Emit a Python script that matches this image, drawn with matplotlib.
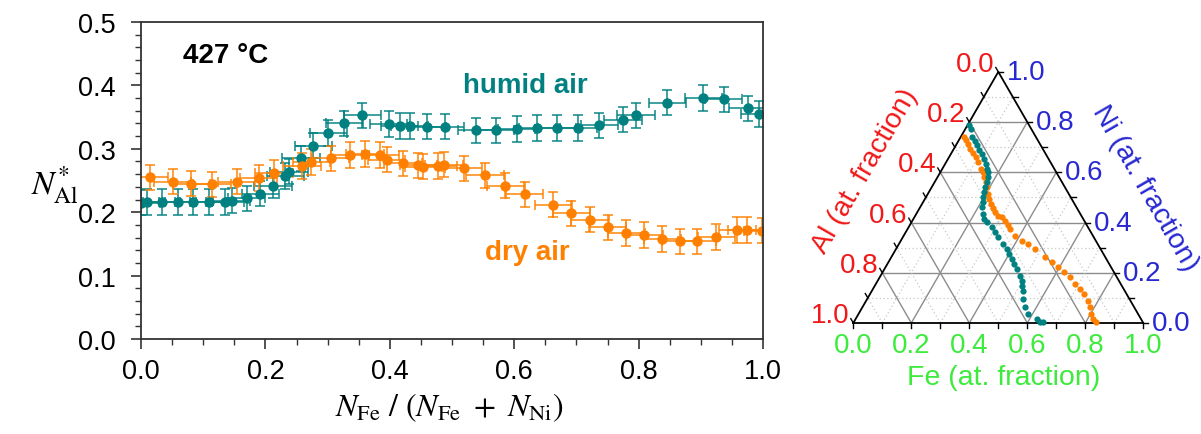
import numpy as np
import matplotlib
matplotlib.use("Agg")
import matplotlib.pyplot as plt

plt.rcParams['font.family'] = ['Liberation Sans', 'DejaVu Sans']
plt.rcParams['mathtext.fontset'] = 'stix'

# ---- N*_Al versus Fe/(Fe+Ni) at 427 °C ----
humid_x = [0.000, 0.009, 0.033, 0.059, 0.084, 0.109, 0.135, 0.146, 0.170, 0.192,
           0.212, 0.232, 0.238, 0.257, 0.277, 0.301, 0.327, 0.356, 0.398, 0.416,
           0.432, 0.460, 0.489, 0.539, 0.570, 0.604, 0.637, 0.669, 0.703, 0.737,
           0.775, 0.796, 0.846, 0.904, 0.937, 0.976, 0.994]
humid_y = [0.215, 0.216, 0.216, 0.216, 0.216, 0.216, 0.216, 0.218, 0.222, 0.229,
           0.242, 0.257, 0.264, 0.285, 0.305, 0.325, 0.340, 0.353, 0.339, 0.336,
           0.336, 0.335, 0.335, 0.329, 0.329, 0.331, 0.333, 0.333, 0.333, 0.337,
           0.346, 0.353, 0.373, 0.380, 0.378, 0.364, 0.355]

dry_x = [0.014, 0.051, 0.081, 0.114, 0.154, 0.189, 0.214, 0.259, 0.274, 0.305,
         0.336, 0.360, 0.385, 0.395, 0.421, 0.446, 0.454, 0.478, 0.487, 0.519,
         0.553, 0.586, 0.617, 0.663, 0.692, 0.722, 0.750, 0.780, 0.809, 0.838,
         0.867, 0.894, 0.925, 0.959, 0.974, 0.999]
dry_y = [0.255, 0.248, 0.245, 0.244, 0.248, 0.254, 0.262, 0.273, 0.279, 0.285,
         0.290, 0.292, 0.290, 0.283, 0.277, 0.274, 0.272, 0.273, 0.275, 0.269,
         0.258, 0.242, 0.228, 0.212, 0.198, 0.188, 0.176, 0.167, 0.164, 0.158,
         0.154, 0.154, 0.161, 0.172, 0.172, 0.171]

x_err = 0.03
y_err = 0.02

# ---- alloy compositions on the Fe-Ni-Al ternary (atomic fractions) ----
humid_fe = [0.007, 0.018, 0.040, 0.057, 0.072, 0.088, 0.107, 0.124, 0.140, 0.155,
            0.165, 0.175, 0.180, 0.184, 0.190, 0.198, 0.206, 0.214, 0.229, 0.244,
            0.260, 0.287, 0.308, 0.329, 0.360, 0.382, 0.400, 0.419, 0.438, 0.456,
            0.481, 0.496, 0.508, 0.522, 0.536, 0.561, 0.585, 0.624, 0.641, 0.654]
humid_ni = [0.787, 0.773, 0.741, 0.725, 0.708, 0.690, 0.672, 0.654, 0.634, 0.614,
            0.600, 0.580, 0.560, 0.540, 0.521, 0.501, 0.481, 0.461, 0.434, 0.414,
            0.403, 0.381, 0.361, 0.341, 0.315, 0.295, 0.275, 0.255, 0.235, 0.215,
            0.188, 0.168, 0.149, 0.129, 0.096, 0.063, 0.036, 0.016, 0.005, 0.003]

dry_fe = [0.010, 0.024, 0.041, 0.055, 0.075, 0.092, 0.108, 0.133, 0.148, 0.161,
          0.177, 0.190, 0.209, 0.222, 0.237, 0.252, 0.268, 0.285, 0.301, 0.319,
          0.339, 0.353, 0.384, 0.417, 0.446, 0.479, 0.530, 0.563, 0.596, 0.625,
          0.656, 0.687, 0.714, 0.739, 0.764, 0.785, 0.802, 0.820, 0.835]
dry_ni = [0.740, 0.730, 0.712, 0.694, 0.677, 0.661, 0.641, 0.614, 0.600, 0.580,
          0.560, 0.540, 0.514, 0.494, 0.474, 0.457, 0.441, 0.425, 0.421, 0.407,
          0.390, 0.374, 0.348, 0.328, 0.315, 0.295, 0.262, 0.242, 0.222, 0.204,
          0.182, 0.155, 0.135, 0.115, 0.089, 0.063, 0.036, 0.016, 0.003]

tern_ticks = [0.0, 0.2, 0.4, 0.6, 0.8, 1.0]

TEAL = '#008080'
ORANGE = '#FF8000'
RED = '#F01818'
BLUE = '#2828D2'
GREEN = '#3CEB3C'

W, H = 1201, 435
fig = plt.figure(figsize=(W / 100, H / 100), dpi=100)

# ================= left panel =================
ax = fig.add_axes([141 / W, (H - 340) / H, (763 - 141) / W, (340 - 23) / H])

common = dict(fmt='o', markersize=6.5, elinewidth=1.4, capsize=3.8, capthick=1.4,
              linestyle='none')
ax.errorbar(humid_x, humid_y, xerr=x_err, yerr=y_err, color=TEAL,
            ecolor=(0, 0.5, 0.5, 0.75), **common)
ax.errorbar(dry_x, dry_y, xerr=x_err, yerr=y_err, color=ORANGE,
            ecolor=(1, 0.5, 0, 0.75), **common)

ax.set_xlim(0, 1)
ax.set_ylim(0, 0.5)
ax.set_xticks(np.arange(0, 1.01, 0.2))
ax.set_yticks(np.arange(0, 0.51, 0.1))
ax.set_xticks(np.arange(0, 1.001, 0.05), minor=True)
ax.set_yticks(np.arange(0, 0.501, 0.02), minor=True)
ax.xaxis.set_major_formatter(matplotlib.ticker.FormatStrFormatter('%.1f'))
ax.yaxis.set_major_formatter(matplotlib.ticker.FormatStrFormatter('%.1f'))
ax.tick_params(which='major', direction='out', length=7, width=1.2, labelsize=19.5,
               color='#333333')
ax.tick_params(which='minor', direction='out', length=4.5, width=1.0, color='#333333')
ax.tick_params(axis='y', pad=11)
ax.tick_params(axis='x', pad=7)
for s in ax.spines.values():
    s.set_linewidth(1.3)
    s.set_color('#333333')

ax.set_ylabel(r'$N^{*}_{\mathrm{Al}}$', rotation=0, fontsize=24, ha='center', va='center')
ax.yaxis.set_label_coords(-0.138, 0.489)
ax.set_xlabel(r'$N_{\mathrm{Fe}}\ /\ (N_{\mathrm{Fe}}\ +\ N_{\mathrm{Ni}})$', fontsize=23,
              va='center')
ax.xaxis.set_label_coords(0.495, -0.215)

ax.text(0.0675, 0.448, '427 °C', fontsize=20, fontweight='bold', color='black',
        ha='left', va='center')
ax.text(0.518, 0.401, 'humid air', fontsize=20, fontweight='bold', color=TEAL,
        ha='left', va='center')
ax.text(0.553, 0.137, 'dry air', fontsize=20, fontweight='bold', color=ORANGE,
        ha='left', va='center')

# ================= ternary panel =================
h = np.sqrt(3) / 2
px = 1 / 290.0  # one pixel in triangle units


def tern(fe, ni):
    fe = np.asarray(fe, dtype=float)
    ni = np.asarray(ni, dtype=float)
    return fe + ni / 2, ni * h


tx = fig.add_axes([800 / W, 0, (W - 800) / W, 1])
tx.set_xlim((800 - 853.3) / 290, (W - 853.3) / 290)
tx.set_ylim((324 - H) / 290, 324 / 290)
tx.axis('off')

for k in range(1, 10):
    v = k / 10
    if k % 2 == 0:
        kw = dict(color='#8c8c8c', lw=1.0, ls='-')
    else:
        kw = dict(color='#c8c8c8', lw=0.9, ls=(0, (1, 2)))
    # constant Ni
    tx.plot([v / 2, 1 - v / 2], [v * h, v * h], zorder=1, **kw)
    # constant Fe
    tx.plot([v, v + (1 - v) / 2], [0, (1 - v) * h], zorder=1, **kw)
    # constant Al
    tx.plot([1 - v, (1 - v) / 2], [0, (1 - v) * h], zorder=1, **kw)

tx.plot([0, 1, 0.5, 0], [0, 0, h, 0], color='black', lw=1.3, zorder=2)

for k in range(11):
    v = k / 10
    # Fe ticks (bottom)
    tx.plot([v, v], [0, -5 * px], color='black', lw=1.0)
    # Ni ticks (right edge)
    x0, y0 = 1 - v / 2, v * h
    tx.plot([x0, x0 + 5 * px], [y0, y0], color='black', lw=1.0)
    # Al ticks (left edge)
    x0, y0 = (1 - v) / 2, (1 - v) * h
    tx.plot([x0, x0 - 0.5 * 5 * px], [y0, y0 + h * 5 * px], color='black', lw=1.0)

for v in tern_ticks:
    lab = f'{v:.1f}'
    tx.text((1 - v) / 2 - 4 * px, (1 - v) * h + 8 * px, lab, color=RED,
            fontsize=20, ha='right', va='center')
    tx.text(1 - v / 2 + 9 * px, v * h, lab, color=BLUE, fontsize=20,
            ha='left', va='center')
    tx.text(v, -22 * px, lab, color=GREEN, fontsize=20, ha='center', va='center')

tx.text(0.040, 0.525, 'Al (at. fraction)', color=RED, fontsize=20.5, rotation=60,
        ha='center', va='center', rotation_mode='anchor')
tx.text(1.006, 0.468, 'Ni (at. fraction)', color=BLUE, fontsize=20.5, rotation=-60,
        ha='center', va='center', rotation_mode='anchor')
tx.text(0.517, -0.187, 'Fe (at. fraction)', color=GREEN, fontsize=20.5,
        ha='center', va='center')

dx, dy = tern(dry_fe, dry_ni)
tx.plot(dx, dy, 'o', color=ORANGE, markersize=4.5, markeredgewidth=0, zorder=3)
hx, hy = tern(humid_fe, humid_ni)
tx.plot(hx, hy, 'o', color=TEAL, markersize=4.5, markeredgewidth=0, zorder=4)

fig.savefig('out.png', dpi=100)
